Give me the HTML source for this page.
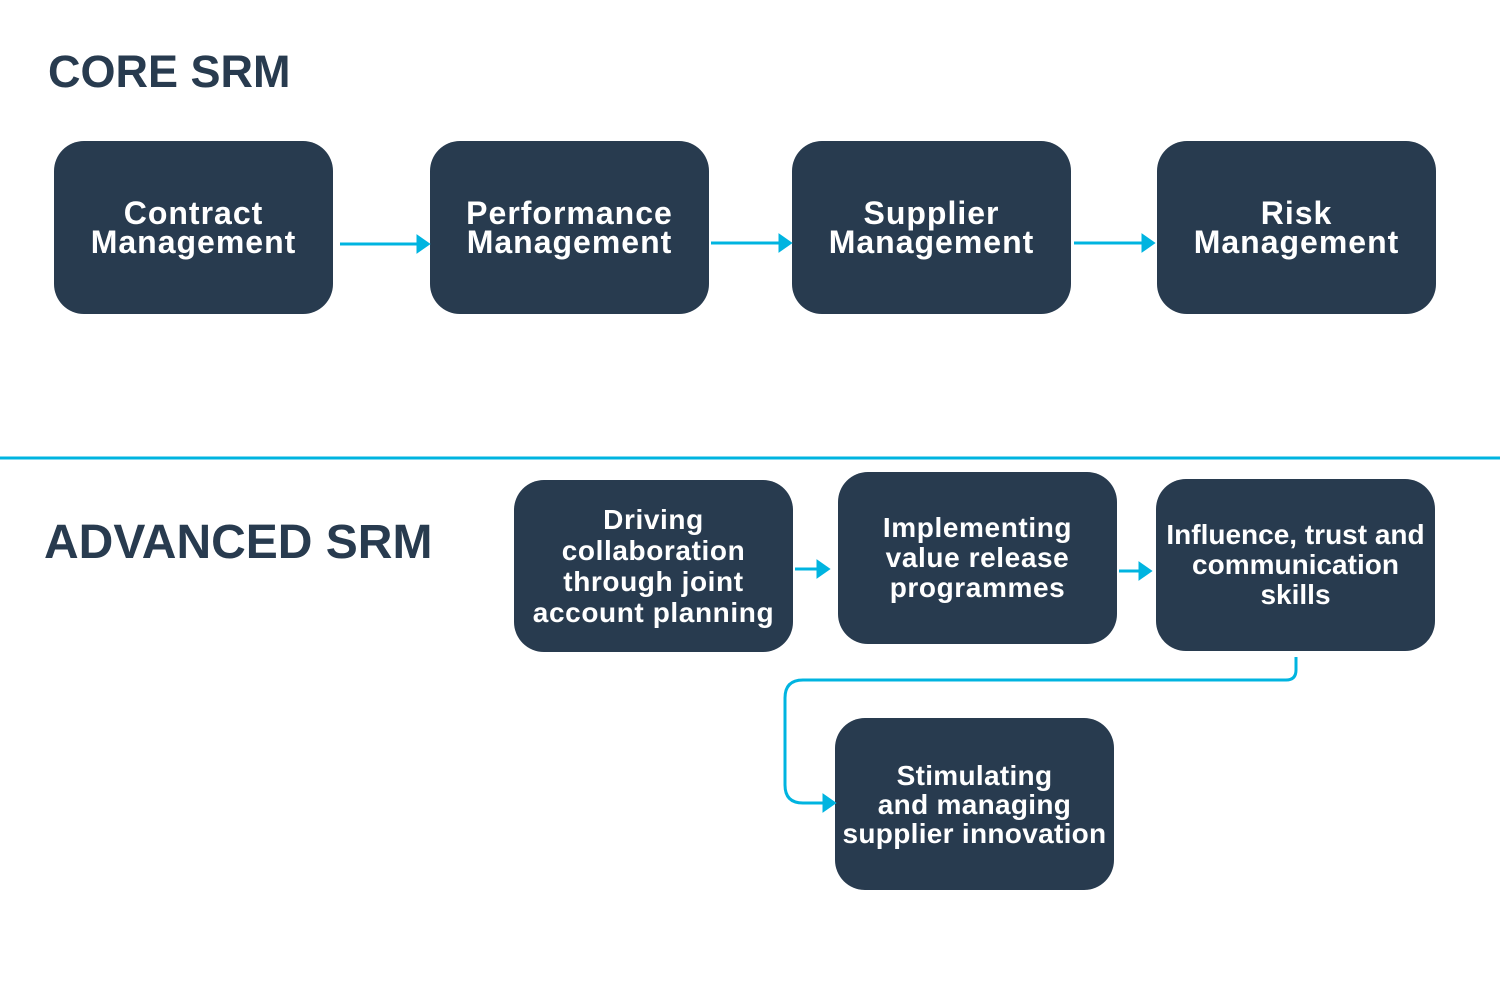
<!DOCTYPE html>
<html><head><style>
body{margin:0;width:1500px;height:1000px;background:#fff;position:relative;overflow:hidden;font-family:"Liberation Sans",sans-serif}
.t{position:absolute;font-weight:bold;color:#283b4f;white-space:nowrap}
.b{position:absolute;background:#283b4f;border-radius:30px;color:#fff;display:flex;align-items:center;justify-content:center;text-align:center;font-weight:bold;width:279px;white-space:nowrap}
.c{font-size:32px;line-height:29px;height:173px;letter-spacing:1px}
.a{font-size:28px;line-height:31px;height:172px;letter-spacing:0.6px}
</style></head><body>
<div class="t" style="left:48px;top:46px;font-size:45px;">CORE SRM</div>
<div class="t" style="left:44px;top:515px;font-size:48px;">ADVANCED SRM</div>
<div class="b c" style="left:54px;top:141px">Contract<br>Management</div>
<div class="b c" style="left:430px;top:141px">Performance<br>Management</div>
<div class="b c" style="left:792px;top:141px">Supplier<br>Management</div>
<div class="b c" style="left:1157px;top:141px">Risk<br>Management</div>
<div class="b a" style="left:514px;top:480px">Driving<br>collaboration<br>through joint<br>account planning</div>
<div class="b a" style="left:838px;top:472px;line-height:30px">Implementing<br>value release<br>programmes</div>
<div class="b a" style="left:1156px;top:479px;line-height:30px;letter-spacing:0">Influence, trust and<br>communication<br>skills</div>
<div class="b a" style="left:835px;top:718px;line-height:29px;letter-spacing:0.3px">Stimulating<br>and managing<br>supplier innovation</div>
<svg width="1500" height="1000" style="position:absolute;left:0;top:0" fill="none" stroke="#00b4e0" stroke-width="3">
<line x1="0" y1="458" x2="1500" y2="458"/>
<line x1="340" y1="244" x2="420" y2="244"/><path d="M418 237 L428 244 L418 251Z" fill="#00b4e0"/>
<line x1="711" y1="243" x2="782" y2="243"/><path d="M780 236 L790 243 L780 250Z" fill="#00b4e0"/>
<line x1="1074" y1="243" x2="1145" y2="243"/><path d="M1143 236 L1153 243 L1143 250Z" fill="#00b4e0"/>
<line x1="795" y1="569" x2="820" y2="569"/><path d="M818 562 L828 569 L818 576Z" fill="#00b4e0"/>
<line x1="1119" y1="571" x2="1142" y2="571"/><path d="M1140 564 L1150 571 L1140 578Z" fill="#00b4e0"/>
<path d="M1296 657 V670 Q1296 680 1286 680 H803 Q785 680 785 698 V785 Q785 803 803 803 H826"/>
<path d="M824 796 L834 803 L824 810Z" fill="#00b4e0"/>
</svg>
</body></html>
